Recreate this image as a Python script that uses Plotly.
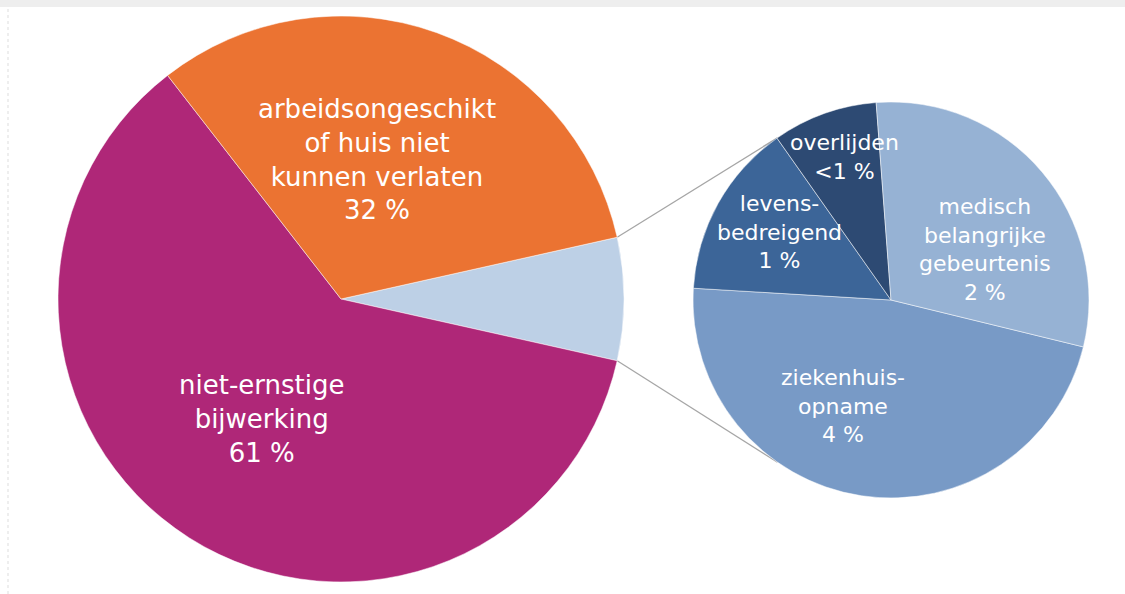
import math
import plotly.graph_objects as go

# ---------------- data ----------------
main_labels = ["ernstige bijwerking", "niet-ernstige bijwerking", "arbeidsongeschikt of huis niet kunnen verlaten"]
main_values = [7, 61, 32]
main_text = ["", "niet-ernstige<br>bijwerking<br>61 %", "arbeidsongeschikt<br>of huis niet<br>kunnen verlaten<br>32 %"]

sub_labels = ["ziekenhuisopname", "levensbedreigend", "overlijden", "medisch belangrijke gebeurtenis"]
sub_values = [3.3, 1.0, 0.6, 2.1]
sub_text = ["ziekenhuis-<br>opname<br>4 %", "levens-<br>bedreigend<br>1 %", "overlijden<br><1 %",
            "medisch<br>belangrijke<br>gebeurtenis<br>2 %"]

# ---------------- style / layout ----------------
W, H = 1125, 594
main_colors = ["#BDD0E6", "#AF2778", "#EB7332"]
sub_colors = ["#789AC6", "#3C6598", "#2D4A73", "#96B2D4"]
FONT = "DejaVu Sans"

main_c, main_r = (341, 299), 283
sub_c, sub_r = (891, 300), 198

# label placement: (angle from top clockwise in deg, radial fraction)
main_lab_pos = [None, (213.4, 0.51), (14.4, 0.51)]
sub_lab_pos = [(204.4, 0.59), (-58.5, 0.66), (-17.8, 0.76), (62, 0.54)]


def dom(c, r):
    return dict(x=[(c[0] - r) / W, (c[0] + r) / W],
                y=[1 - (c[1] + r) / H, 1 - (c[1] - r) / H])


def px(c, r, ang):
    a = math.radians(ang)
    return c[0] + r * math.sin(a), c[1] - r * math.cos(a)


# split-off slice centred on 3 o'clock
half = 0.5 * main_values[0] / sum(main_values) * 360
main_rot = 90 - half
sub_rot = 103.7

fig = go.Figure()
fig.add_trace(go.Pie(
    labels=main_labels, values=main_values, sort=False, direction="clockwise",
    rotation=main_rot, domain=dom(main_c, main_r), textinfo="none", hoverinfo="label+percent",
    marker=dict(colors=main_colors, line=dict(color="white", width=0.5)), showlegend=False))
fig.add_trace(go.Pie(
    labels=sub_labels, values=sub_values, sort=False, direction="clockwise",
    rotation=sub_rot, domain=dom(sub_c, sub_r), textinfo="none", hoverinfo="label",
    marker=dict(colors=sub_colors, line=dict(color="white", width=0.5)), showlegend=False))

annotations = []
for txt, pos in zip(main_text, main_lab_pos):
    if pos is None:
        continue
    x, y = px(main_c, main_r * pos[1], pos[0])
    annotations.append(dict(x=x / W, y=1 - y / H, xref="paper", yref="paper", text=txt,
                            showarrow=False, xanchor="center", yanchor="middle", align="center",
                            font=dict(family=FONT, size=26, color="white")))
for txt, pos in zip(sub_text, sub_lab_pos):
    x, y = px(sub_c, sub_r * pos[1], pos[0])
    annotations.append(dict(x=x / W, y=1 - y / H, xref="paper", yref="paper", text=txt,
                            showarrow=False, xanchor="center", yanchor="middle", align="center",
                            font=dict(family=FONT, size=22, color="white")))

# connector lines from the split-off slice to the secondary pie
shapes = []
for a_main, a_sub in ((90 - half, -35), (90 + half, 215)):
    x0, y0 = px(main_c, main_r, a_main)
    x1, y1 = px(sub_c, sub_r, a_sub)
    shapes.append(dict(type="line", xref="paper", yref="paper",
                       x0=x0 / W, y0=1 - y0 / H, x1=x1 / W, y1=1 - y1 / H,
                       line=dict(color="#A6A6A6", width=1.3), layer="below"))
# page decorations: light top strip and dashed left border
shapes.append(dict(type="rect", xref="paper", yref="paper", x0=0, x1=1, y0=1 - 7 / H, y1=1,
                   fillcolor="#EEEEEE", line=dict(width=0), layer="below"))
shapes.append(dict(type="line", xref="paper", yref="paper", x0=8 / W, x1=8 / W, y0=0, y1=1 - 7 / H,
                   line=dict(color="#DDDDDD", width=1, dash="dot"), layer="below"))

fig.update_layout(width=W, height=H, margin=dict(l=0, r=0, t=0, b=0),
                  paper_bgcolor="white", plot_bgcolor="white",
                  annotations=annotations, shapes=shapes, font=dict(family=FONT))
fig.write_html("out.html", config={"displayModeBar": False},
               post_script="document.body.style.margin='0';document.body.style.overflow='hidden';")
